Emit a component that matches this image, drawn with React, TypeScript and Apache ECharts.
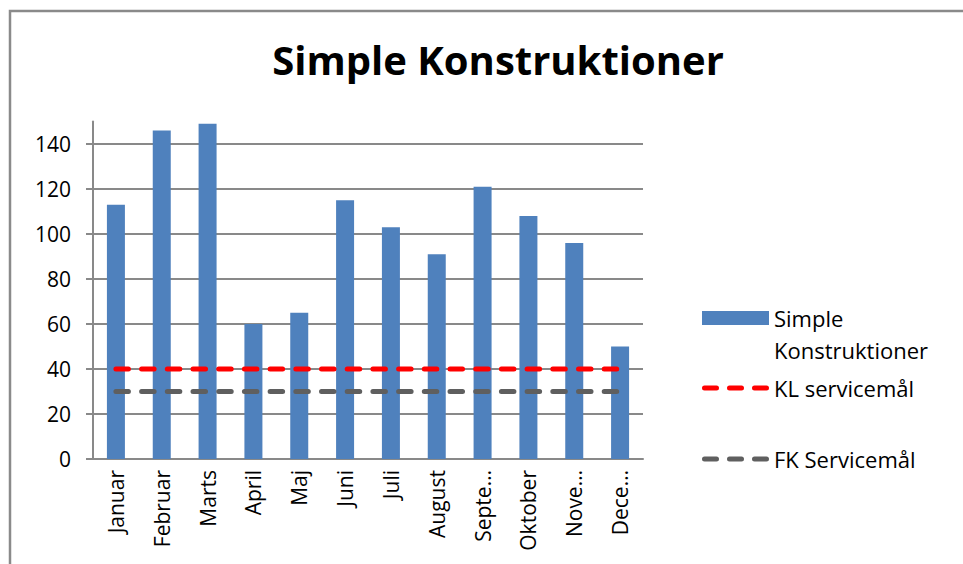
import React, { useEffect, useRef } from "react";
import * as echarts from "echarts";

const monthLabels = ["Januar", "Februar", "Marts", "April", "Maj", "Juni", "Juli", "August", "Septe…", "Oktober", "Nove…", "Dece…"];
const simpleValues = [113, 146, 149, 60, 65, 115, 103, 91, 121, 108, 96, 50];
const klValues = [40, 40, 40, 40, 40, 40, 40, 40, 40, 40, 40, 40];
const fkValues = [30, 30, 30, 30, 30, 30, 30, 30, 30, 30, 30, 30];
const yTicks = [0, 20, 40, 60, 80, 100, 120, 140];

const FONT = "'Open Sans', Lato, sans-serif";
const GRID = "#898989";
const DASH_ICON =
  "path://M2.5 0H14.5A2.5 2.5 0 0 1 14.5 5H2.5A2.5 2.5 0 0 1 2.5 0Z" +
  "M27.5 0H39.5A2.5 2.5 0 0 1 39.5 5H27.5A2.5 2.5 0 0 1 27.5 0Z" +
  "M52.5 0H64.5A2.5 2.5 0 0 1 64.5 5H52.5A2.5 2.5 0 0 1 52.5 0Z";

export default function App() {
  const ref = useRef<HTMLDivElement>(null);
  useEffect(() => {
    document.body.style.margin = "0";
    if (!ref.current) return;
    const chart = echarts.init(ref.current, null, { renderer: "svg" });
    const legendText = { fontFamily: FONT, fontSize: 22, color: "#000", lineHeight: 32 };
    chart.setOption({
      animation: false,
      backgroundColor: "#fff",
      title: {
        text: "Simple Konstruktioner",
        left: 493,
        top: 34,
        textAlign: "center",
        textStyle: { fontFamily: FONT, fontSize: 40, fontWeight: "bold", color: "#000" },
      },
      grid: { left: 93, right: 320, top: 121.5, bottom: 105 },
      xAxis: {
        type: "category",
        data: monthLabels,
        boundaryGap: true,
        axisLine: { lineStyle: { color: GRID, width: 2 } },
        axisTick: { length: 9, lineStyle: { color: GRID, width: 2 } },
        axisLabel: {
          rotate: 90,
          interval: 0,
          margin: 11,
          fontFamily: FONT,
          fontSize: 21,
          color: "#000",
        },
      },
      yAxis: {
        type: "value",
        min: 0,
        max: 150,
        interval: 20,
        axisLine: { show: true, lineStyle: { color: GRID, width: 2 } },
        axisTick: { show: true, length: 7, customValues: yTicks, lineStyle: { color: GRID, width: 2 } },
        axisLabel: { customValues: yTicks, margin: 22, fontFamily: FONT, fontSize: 21, color: "#000" },
        splitLine: {
          show: true,
          lineStyle: {
            color: [GRID, GRID, GRID, GRID, GRID, GRID, GRID, GRID, "rgba(0,0,0,0)"],
            width: 1.8,
          },
        },
      },
      legend: [
        {
          data: [{ name: "Simple Konstruktioner", icon: "rect" }],
          left: 702,
          top: 270,
          padding: 0,
          itemWidth: 67,
          itemHeight: 14,
          formatter: () => " \nSimple\nKonstruktioner",
          textStyle: legendText,
          selectedMode: false,
        },
        {
          data: [{ name: "KL servicemål", icon: DASH_ICON }],
          left: 702,
          top: 372,
          padding: 0,
          itemWidth: 67,
          itemHeight: 5,
          textStyle: legendText,
          selectedMode: false,
        },
        {
          data: [{ name: "FK Servicemål", icon: DASH_ICON }],
          left: 702,
          top: 443,
          padding: 0,
          itemWidth: 67,
          itemHeight: 5,
          textStyle: legendText,
          selectedMode: false,
        },
      ],
      graphic: [
        {
          type: "polyline",
          shape: { points: [[10, 564], [10, 11], [963, 11]] },
          style: { stroke: "#8a8a8a", lineWidth: 2.5, fill: "none" },
          silent: true,
        },
      ],
      series: [
        {
          name: "Simple Konstruktioner",
          type: "bar",
          data: simpleValues,
          barWidth: 18,
          itemStyle: { color: "#4F81BD" },
        },
        {
          name: "KL servicemål",
          type: "line",
          data: klValues,
          symbol: "none",
          lineStyle: { color: "#FF0000", width: 5, type: [12.5, 13.2], cap: "round" },
          itemStyle: { color: "#FF0000" },
        },
        {
          name: "FK Servicemål",
          type: "line",
          data: fkValues,
          symbol: "none",
          lineStyle: { color: "#5F5F5F", width: 5, type: [12.5, 13.2], cap: "round" },
          itemStyle: { color: "#5F5F5F" },
        },
      ],
    });
    return () => chart.dispose();
  }, []);
  return <div ref={ref} style={{ width: 963, height: 564 }} />;
}
